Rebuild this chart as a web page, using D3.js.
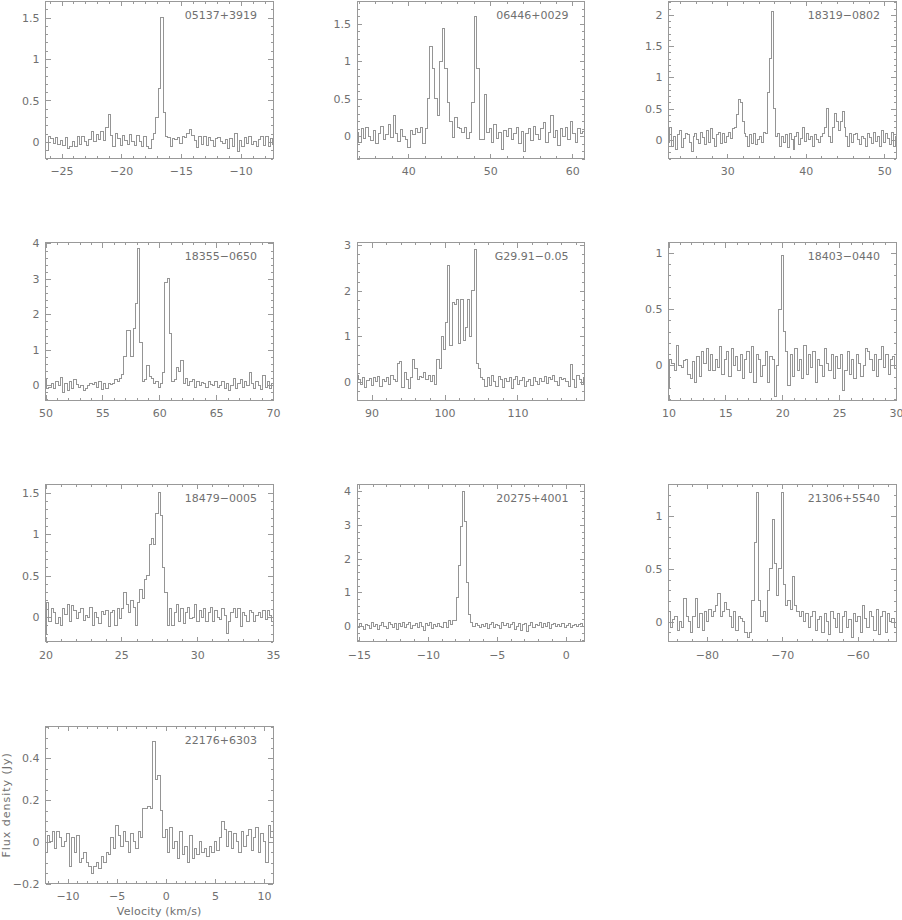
<!DOCTYPE html>
<html>
<head>
<meta charset="utf-8">
<script src="https://cdn.jsdelivr.net/npm/d3@7"></script>
<style>
  body { margin: 0; background: #fff; }
  svg text { font-family: "DejaVu Sans", sans-serif; font-size: 11px; fill: #707070; }
</style>
</head>
<body>
<div id="chart"></div>
<script>
// source names, one per panel
const sources = ["05137+3919", "06446+0029", "18319\u22120802", "18355\u22120650", "G29.91\u22120.05",
                 "18403\u22120440", "18479\u22120005", "20275+4001", "21306+5540", "22176+6303"];

// first channel velocity (km/s) and channel width
const v0 = [-26.4, 33.8, 22.5, 50, 88, 10, 20, -15.2, -85, -12.2];
const dv = [0.2, 0.3, 0.25, 0.2, 0.3, 0.2, 0.15, 0.15, 0.3, 0.25];

// flux density per channel (Jy)
const flux1 = [0.05, -0.1, 0.06, 0.04, -0.02, 0.05, -0.03, 0.02, -0.04, 0.05,
  -0.08, -0.06, 0.0, -0.05, 0.06, -0.03, 0.07, 0.01, -0.04, 0.03,
  0.12, 0.0, 0.09, 0.03, 0.13, 0.02, 0.18, 0.33, 0.08, -0.05,
  0.1, 0.04, -0.04, 0.08, 0.02, -0.03, 0.09, 0.01, -0.04, 0.08,
  0.0, -0.05, 0.06, -0.06, -0.08, 0.03, 0.1, 0.3, 0.65, 1.5,
  0.35, 0.06, 0.05, -0.05, 0.04, 0.03, 0.05, -0.02, 0.06, 0.05,
  0.1, 0.15, 0.08, 0.02, -0.07, 0.06, -0.03, 0.07, -0.04, 0.05,
  0.02, -0.06, 0.04, 0.05, 0.0, -0.02, 0.03, -0.08, 0.04, -0.05,
  0.1, -0.12, 0.02, -0.06, 0.05, -0.02, 0.06, -0.03, 0.0, -0.05,
  0.03, 0.06, -0.04, 0.07, -0.06, 0.04, -0.03];
const flux2 = [0.05, -0.08, 0.1, -0.03, 0.12, 0.0, -0.06, 0.08, -0.1, 0.04,
  0.13, -0.05, 0.02, 0.15, -0.02, 0.27, 0.03, -0.07, 0.09, 0.0,
  -0.04, -0.15, 0.08, 0.02, 0.1, 0.05, 0.12, -0.1, 0.1, 0.5,
  1.2, 0.9, 0.5, 0.28, 1.0, 1.43, 0.9, 0.45, 0.2, -0.02,
  0.25, 0.12, 0.1, 0.05, 0.12, -0.03, 0.05, 0.45, 1.6, 0.9,
  -0.05, -0.05, 0.55, 0.05, 0.1, -0.08, 0.15, -0.03, 0.05, -0.18,
  0.08, 0.0, 0.1, -0.05, 0.03, 0.12, -0.1, 0.06, -0.2, 0.04,
  0.1, -0.06, 0.13, 0.02, -0.04, 0.1, 0.18, -0.08, 0.05, 0.27,
  -0.02, 0.08, -0.12, 0.1, 0.0, 0.12, -0.05, 0.2, 0.03, -0.08,
  0.1, 0.04, 0.06];
const flux3 = [-0.05, 0.2, -0.1, 0.05, -0.15, 0.08, 0.15, -0.12, 0.02, 0.1,
  0.08, -0.05, -0.18, 0.05, 0.1, 0.0, -0.06, 0.12, 0.04, -0.08,
  0.15, -0.05, 0.18, 0.02, -0.1, 0.08, 0.12, -0.06, 0.1, -0.04,
  0.05, 0.12, 0.02, 0.18, 0.2, 0.4, 0.65, 0.6, 0.3, 0.1,
  0.05, -0.1, 0.08, -0.06, 0.1, -0.08, 0.0, 0.05, -0.05, 0.12,
  0.1, 0.75, 1.3, 2.05, 0.5, 0.05, 0.1, -0.1, 0.05, -0.05,
  0.08, -0.12, 0.1, 0.0, -0.15, 0.05, 0.12, -0.08, 0.02, 0.2,
  -0.02, 0.1, 0.0, 0.05, -0.1, 0.08, 0.0, -0.05, 0.05, 0.1,
  0.2, 0.5, 0.05, -0.05, 0.2, 0.42, 0.3, 0.15, 0.3, 0.45,
  0.2, 0.05, -0.1, 0.1, -0.05, 0.08, 0.1, 0.0, -0.08, 0.05,
  0.02, -0.1, 0.1, 0.04, -0.06, 0.12, -0.03, 0.06, -0.1, 0.15,
  -0.05, 0.1, 0.02, -0.08, 0.12, -0.1, 0.05];
const flux4 = [0.15, -0.08, -0.05, 0.05, -0.08, 0.1, 0.0, 0.22, -0.2, 0.05,
  -0.15, 0.12, -0.1, 0.15, 0.02, -0.05, 0.0, -0.15, -0.08, 0.0,
  0.05, 0.03, 0.08, -0.05, 0.1, -0.12, 0.05, -0.08, 0.05, 0.02,
  0.05, 0.15, 0.1, 0.2, 0.3, 0.8, 1.55, 1.55, 0.8, 1.6,
  2.3, 3.85, 1.2, 0.1, 0.15, 0.55, 0.25, 0.2, 0.05, 0.1,
  -0.05, 0.05, 0.35, 2.9, 3.0, 1.45, 0.1, 0.15, 0.5, 0.4,
  0.7, 0.05, 0.2, 0.0, 0.1, 0.15, -0.05, 0.12, 0.0, 0.08,
  0.05, -0.05, 0.1, 0.03, 0.0, 0.12, -0.05, 0.0, 0.1, -0.08,
  0.05, -0.15, 0.0, 0.2, -0.1, 0.05, 0.15, -0.05, 0.1, 0.0,
  0.35, 0.05, -0.1, 0.12, 0.0, -0.12, 0.28, -0.05, 0.1, -0.08,
  0.05];
const flux5 = [0.15, 0.05, -0.05, 0.1, -0.12, 0.03, 0.08, -0.08, 0.1, 0.0,
  0.12, -0.1, 0.05, 0.0, 0.1, -0.05, 0.15, 0.05, 0.0, 0.4,
  0.45, -0.12, 0.2, 0.05, -0.15, 0.1, 0.5, 0.3, 0.05, 0.12,
  0.1, 0.2, 0.05, 0.15, 0.0, 0.15, -0.05, 0.5, 0.3, 1.0,
  0.7, 1.3, 2.55, 0.8, 1.75, 1.7, 1.8, 0.85, 1.8, 0.9,
  1.2, 1.8, 1.0, 2.0, 2.9, 0.4, 0.3, 0.1, 0.05, -0.1,
  0.1, -0.08, 0.15, 0.0, -0.1, 0.12, 0.05, -0.12, 0.08, 0.0,
  0.1, -0.15, 0.05, 0.12, -0.05, 0.03, 0.1, -0.1, 0.0, 0.05,
  -0.08, 0.1, 0.02, -0.05, 0.08, 0.0, 0.12, -0.03, 0.1, 0.05,
  0.15, 0.02, -0.08, 0.1, 0.05, 0.08, 0.0, -0.1, 0.38, 0.05,
  -0.12, 0.15, 0.05, -0.05, 0.1];
const flux6 = [-0.2, 0.05, 0.02, -0.05, 0.18, 0.0, -0.02, 0.04, 0.05, -0.08,
  -0.12, 0.03, -0.15, 0.08, -0.1, 0.12, 0.02, 0.15, -0.05, 0.1,
  -0.05, 0.05, -0.02, 0.17, -0.08, 0.05, 0.12, -0.1, 0.15, 0.0,
  0.08, -0.05, 0.1, -0.12, 0.05, 0.12, -0.06, 0.17, -0.15, 0.1,
  0.05, -0.1, 0.0, 0.12, -0.15, 0.08, 0.05, -0.28, 0.0, 0.5,
  0.98, 0.3, 0.12, -0.18, 0.1, -0.1, 0.15, -0.05, 0.05, -0.12,
  0.18, -0.08, 0.1, -0.02, 0.12, -0.15, 0.05, 0.0, -0.1, 0.15,
  0.02, -0.05, 0.1, -0.12, 0.08, -0.03, 0.1, -0.22, -0.05, 0.12,
  -0.08, 0.05, -0.12, 0.1, 0.02, -0.1, 0.0, 0.15, 0.12, 0.05,
  -0.05, 0.1, -0.1, 0.05, 0.17, -0.02, 0.1, -0.08, 0.05, 0.08,
  -0.03];
const flux7 = [-0.2, 0.17, -0.05, 0.1, 0.05, -0.08, 0.0, -0.1, 0.1, 0.03,
  0.15, -0.05, 0.14, 0.08, -0.02, 0.05, 0.1, -0.04, 0.02, 0.0,
  0.12, -0.1, 0.05, 0.0, -0.08, 0.07, 0.03, 0.08, -0.12, 0.05,
  0.08, -0.1, 0.1, -0.02, 0.1, 0.3, 0.15, 0.05, 0.2, 0.12,
  -0.1, 0.18, 0.33, 0.22, 0.45, 0.5, 0.87, 0.95, 0.88, 1.25,
  1.5, 1.22, 0.6, 0.3, -0.1, 0.1, -0.1, 0.05, 0.15, -0.05,
  0.1, -0.08, 0.05, 0.12, -0.02, 0.0, 0.15, -0.05, 0.08, 0.0,
  0.1, -0.05, 0.05, 0.12, -0.05, 0.08, 0.0, -0.03, 0.1, 0.02,
  -0.2, -0.05, 0.05, 0.1, 0.0, 0.1, -0.12, 0.05, 0.02, -0.05,
  0.08, 0.05, -0.05, 0.02, 0.06, 0.0, 0.08, -0.03, 0.08, 0.02,
  -0.05];
const flux8 = [0.05, -0.05, 0.08, 0.0, -0.1, 0.05, 0.02, -0.08, 0.1, -0.02,
  0.06, -0.1, 0.03, 0.1, 0.0, -0.06, 0.12, 0.05, -0.03, 0.08,
  -0.1, 0.07, 0.0, 0.12, -0.05, 0.05, 0.1, -0.08, 0.03, 0.08,
  -0.05, 0.1, 0.0, -0.12, 0.07, 0.03, 0.12, -0.06, 0.05, -0.02,
  0.08, 0.0, -0.05, 0.1, -0.03, 0.15, 0.05, 0.15, 0.15, 0.85,
  1.8, 2.95, 4.0, 3.1, 1.3, 0.35, 0.1, -0.02, 0.08, 0.03,
  -0.05, 0.06, 0.0, 0.08, -0.06, 0.04, 0.1, -0.04, 0.06, 0.02,
  -0.08, 0.1, 0.03, 0.08, -0.05, 0.05, 0.12, -0.1, 0.0, 0.07,
  -0.12, 0.05, 0.08, -0.15, 0.03, 0.1, -0.05, 0.06, 0.02, 0.1,
  -0.03, 0.08, 0.0, 0.1, -0.06, 0.05, 0.09, -0.02, 0.06, 0.0,
  0.08, -0.05, 0.03, 0.07, -0.04, 0.02, 0.05, -0.02, 0.04, 0.08,
  0.0];
const flux9 = [0.1, -0.05, 0.02, 0.05, -0.08, 0.0, -0.05, 0.22, 0.05, 0.0,
  -0.1, 0.05, 0.22, -0.05, 0.08, -0.08, 0.1, 0.0, 0.12, 0.05,
  0.1, 0.15, 0.27, 0.05, 0.1, 0.18, 0.12, 0.05, -0.05, 0.1,
  -0.08, 0.05, 0.03, 0.0, -0.1, -0.15, -0.1, 0.2, 0.75, 1.22,
  0.2, 0.05, 0.1, 0.0, 0.3, 0.5, 0.97, 0.55, 0.25, 0.5,
  1.22, 0.35, 0.15, 0.2, 0.12, 0.43, 0.15, 0.1, 0.05, 0.1,
  0.0, 0.08, -0.05, 0.05, 0.1, -0.08, 0.02, 0.05, -0.1, 0.08,
  0.0, -0.12, 0.1, 0.03, -0.05, 0.08, -0.1, 0.05, 0.1, -0.05,
  0.02, -0.15, 0.08, 0.0, 0.05, -0.1, 0.15, 0.03, -0.05, 0.1,
  0.05, -0.08, 0.12, -0.12, 0.05, 0.1, -0.1, 0.08, 0.0, 0.03,
  -0.05];
const flux10 = [-0.05, 0.03, 0.0, 0.05, -0.03, 0.05, 0.02, -0.02, 0.0, 0.04,
  -0.12, 0.02, -0.05, 0.03, -0.1, -0.08, -0.05, -0.1, -0.12, -0.15,
  -0.12, -0.1, -0.13, -0.07, -0.1, -0.05, -0.06, 0.02, -0.03, 0.08,
  0.03, -0.02, 0.05, 0.0, -0.05, 0.04, 0.0, -0.03, 0.05, 0.02,
  0.16, 0.16, 0.17, 0.16, 0.48, 0.3, 0.32, 0.15, 0.02, 0.06,
  -0.05, 0.07, -0.03, 0.0, -0.08, 0.05, -0.06, -0.02, -0.1, 0.03,
  -0.08, -0.03, -0.06, 0.0, -0.05, -0.03, -0.07, -0.02, -0.05, 0.0,
  -0.04, 0.02, 0.1, 0.06, -0.02, 0.05, -0.03, 0.04, 0.0, -0.05,
  0.05, -0.02, 0.03, 0.06, -0.04, 0.02, 0.07, -0.05, 0.04, 0.0,
  -0.1, 0.08, 0.02];
const fluxes = [flux1, flux2, flux3, flux4, flux5, flux6, flux7, flux8, flux9, flux10];

// axis ranges and labelled ticks
const xRanges = [[-26.34, -7.29], [33.76, 61.48], [22.5, 51.5], [50, 70], [88.0, 119.2],
                 [10, 30], [20, 35], [-15.13, 1.36], [-85.1, -54.9], [-12.24, 10.91]];
const yRanges = [[-0.2, 1.7], [-0.3, 1.8], [-0.3, 2.22], [-0.42, 4.02], [-0.4, 3.05],
                 [-0.31, 1.09], [-0.3, 1.6], [-0.47, 4.2], [-0.19, 1.3], [-0.2, 0.555]];
const xTicks = [[-25, -20, -15, -10], [40, 50, 60], [30, 40, 50], [50, 55, 60, 65, 70], [90, 100, 110],
                [10, 15, 20, 25, 30], [20, 25, 30, 35], [-15, -10, -5, 0], [-80, -70, -60], [-10, -5, 0, 5, 10]];
const yTicks = [[0, 0.5, 1, 1.5], [0, 0.5, 1, 1.5], [0, 0.5, 1, 1.5, 2], [0, 1, 2, 3, 4], [0, 1, 2, 3],
                [0, 0.5, 1], [0, 0.5, 1, 1.5], [0, 1, 2, 3, 4], [0, 0.5, 1], [-0.2, 0, 0.2, 0.4]];
const xMinorStep = [1, 2, 2, 1, 2, 1, 1, 1, 2, 1];
const yMinorStep = [0.1, 0.1, 0.1, 0.2, 0.2, 0.1, 0.1, 0.2, 0.1, 0.05];

const width = 902, height = 920;
const left0 = 45.5, colStep = 311.5, top0 = 1, rowStep = 241.7;
const W = 227.5, H = 157.5;
const lineColor = "#959595", frameColor = "#999999", textColor = "#707070";

const svg = d3.select("#chart").append("svg")
  .attr("width", width)
  .attr("height", height);

const fmt = d => String(d).replace("-", "\u2212");

function minorTicks(range, step, majors) {
  const out = [];
  const k0 = Math.ceil(range[0] / step - 1e-6), k1 = Math.floor(range[1] / step + 1e-6);
  for (let k = k0; k <= k1; k++) {
    const v = Math.round(k * step * 1000) / 1000;
    if (!majors.some(m => Math.abs(m - v) < 1e-6)) out.push(v);
  }
  return out;
}

function styleAxis(sel) {
  sel.select(".domain").remove();
  sel.attr("font-size", null).attr("font-family", null);
  sel.selectAll("line").attr("stroke", frameColor).attr("shape-rendering", "crispEdges");
  sel.selectAll("text").attr("fill", textColor);
}

fluxes.forEach((vals, p) => {
  const col = p % 3, row = Math.floor(p / 3);
  const g = svg.append("g")
    .attr("transform", `translate(${left0 + col * colStep},${top0 + row * rowStep})`);

  const x = d3.scaleLinear().domain(xRanges[p]).range([0, W]);
  const y = d3.scaleLinear().domain(yRanges[p]).range([H, 0]);

  const xMin = minorTicks(xRanges[p], xMinorStep[p], xTicks[p]);
  const yMin = minorTicks(yRanges[p], yMinorStep[p], yTicks[p]);

  // major ticks + labels
  g.append("g").attr("transform", `translate(0,${H})`)
    .call(d3.axisBottom(x).tickValues(xTicks[p]).tickSize(-5).tickPadding(9).tickFormat(fmt))
    .call(styleAxis);
  g.append("g")
    .call(d3.axisLeft(y).tickValues(yTicks[p]).tickSize(-5).tickPadding(6).tickFormat(fmt))
    .call(styleAxis);
  g.append("g")
    .call(d3.axisTop(x).tickValues(xTicks[p]).tickSize(-5).tickFormat(""))
    .call(styleAxis);
  g.append("g").attr("transform", `translate(${W},0)`)
    .call(d3.axisRight(y).tickValues(yTicks[p]).tickSize(-5).tickFormat(""))
    .call(styleAxis);

  // minor ticks on all four sides
  g.append("g").attr("transform", `translate(0,${H})`)
    .call(d3.axisBottom(x).tickValues(xMin).tickSize(-2.5).tickFormat(""))
    .call(styleAxis);
  g.append("g")
    .call(d3.axisTop(x).tickValues(xMin).tickSize(-2.5).tickFormat(""))
    .call(styleAxis);
  g.append("g")
    .call(d3.axisLeft(y).tickValues(yMin).tickSize(-2.5).tickFormat(""))
    .call(styleAxis);
  g.append("g").attr("transform", `translate(${W},0)`)
    .call(d3.axisRight(y).tickValues(yMin).tickSize(-2.5).tickFormat(""))
    .call(styleAxis);

  // histogram-style spectrum
  const clipId = `clip-${p}`;
  g.append("clipPath").attr("id", clipId)
    .append("rect").attr("width", W).attr("height", H);

  const pts = vals.map((f, i) => [v0[p] + (i - 0.5) * dv[p], f]);
  pts.push([v0[p] + (vals.length - 0.5) * dv[p], vals[vals.length - 1]]);

  const line = d3.line()
    .x(d => x(d[0]))
    .y(d => y(d[1]))
    .curve(d3.curveStepAfter);

  g.append("path")
    .attr("clip-path", `url(#${clipId})`)
    .attr("d", line(pts))
    .attr("fill", "none")
    .attr("stroke", lineColor)
    .attr("stroke-width", 1)
    .attr("shape-rendering", "crispEdges");

  g.append("rect")
    .attr("width", W).attr("height", H)
    .attr("fill", "none")
    .attr("stroke", frameColor)
    .attr("stroke-width", 1)
    .attr("shape-rendering", "crispEdges");

  g.append("text")
    .attr("x", W - 16)
    .attr("y", 17.5)
    .attr("text-anchor", "end")
    .text(sources[p]);

  if (p === 9) {
    g.append("text")
      .attr("x", W / 2)
      .attr("y", H + 31)
      .attr("text-anchor", "middle")
      .attr("letter-spacing", 0.2)
      .text("Velocity (km/s)");
    g.append("text")
      .attr("transform", `translate(${-left0 + 9.5},${H / 2}) rotate(-90)`)
      .attr("text-anchor", "middle")
      .attr("letter-spacing", 1)
      .text("Flux density (Jy)");
  }
});
</script>
</body>
</html>
